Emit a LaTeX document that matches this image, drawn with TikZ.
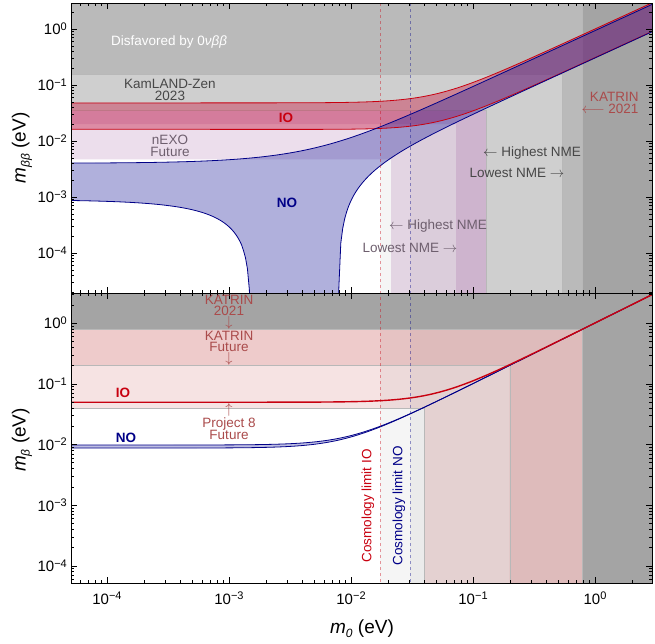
\documentclass[tikz,border=0pt]{standalone}
\usepackage{fontspec}
\setmainfont{Liberation Sans}
\usetikzlibrary{positioning}
\definecolor{ioline}{RGB}{200,0,15}
\definecolor{noline}{RGB}{0,0,135}
\definecolor{iofill}{RGB}{200,20,60}
\definecolor{nofill}{RGB}{40,40,160}
\definecolor{nexo}{RGB}{150,70,150}
\definecolor{pinklim}{RGB}{192,64,64}
\definecolor{klzhi}{RGB}{207,207,207}
\definecolor{klzlo}{RGB}{186,186,186}
\definecolor{katrin}{RGB}{164,164,164}
\definecolor{limtext}{RGB}{170,75,75}
\definecolor{nmetext}{RGB}{110,95,110}
\newcommand{\dec}[1]{10\raisebox{0.55ex}{\fontsize{11}{11}\selectfont #1}}
\newcommand{\mlab}[1]{\textit{m}\raisebox{-0.4ex}{\fontsize{12}{12}\selectfont\textit{#1}}}
\begin{document}
\begin{tikzpicture}[x=1pt,y=-1pt,
  declare function={
    px(\l)=595+122*\l;
    ta(\l)=29-56*\l;
    bo(\l)=323-60.7*\l;
    sm(\a,\b)=max(\a,\b)+0.5*log10(1+pow(10,max(2*(min(\a,\b)-max(\a,\b)),-6)));
    ta1(\L)=0.62*pow(10,\L);
    ta2(\L)=0.285*pow(10,sm(\L,0.934));
    ta3(\L)=0.031*pow(10,sm(\L,1.699));
    noH(\l)=log10(ta1(\l+3)+ta2(\l+3)+ta3(\l+3))-3;
    noL(\l)=log10(max(ta1(\l+3)-ta2(\l+3)-ta3(\l+3),ta2(\l+3)-ta1(\l+3)-ta3(\l+3),0.0001))-3;
    ioH(\l)=log10(0.978*pow(10,sm(\l+3,1.69))+0.022*pow(10,\l+3))-3;
    ioL(\l)=log10(0.33*pow(10,sm(\l+3,1.69))-0.022*pow(10,\l+3))-3;
  },
  lab/.style={font=\fontsize{13.5}{12}\selectfont, align=center, inner sep=0.5pt},
  tag/.style={font=\bfseries\fontsize{13.5}{14}\selectfont, inner sep=1pt},
  ticklab/.style={font=\fontsize{15}{15}\selectfont, inner sep=1pt},
  axlab/.style={font=\fontsize{19}{19}\selectfont},
  edge/.style={draw=black!28, line width=0.4pt}]
\useasboundingbox (0,0) rectangle (655,643);
% cosmology shading, both panels
\fill[black!4] (380,3) rectangle (652,583);
\fill[black!8] (410,3) rectangle (652,583);
% top panel: limits
\begin{scope}
\clip (71,3) rectangle (652,293);
\fill[nexo, opacity=.18] (71,3) -- (71,{ta(-2.33)}) -- (391,{ta(-2.33)}) -- (391,293) -- (652,293) -- (652,3) -- cycle;
\fill[nexo, opacity=.18] (71,3) -- (71,{ta(-1.70)}) -- (456,{ta(-1.70)}) -- (456,293) -- (652,293) -- (652,3) -- cycle;
\filldraw[fill=klzhi, edge] (71,3) -- (71,{ta(-1.444)}) -- (486,{ta(-1.444)}) -- (486,293) -- (652,293) -- (652,3) -- cycle;
\filldraw[fill=klzlo, edge] (71,3) -- (71,{ta(-0.807)}) -- (562,{ta(-0.807)}) -- (562,293) -- (652,293) -- (652,3) -- cycle;
\filldraw[fill=katrin, edge] (582,3) rectangle (652,293);
% bands
\fill[iofill, opacity=.4] plot[domain=-4.3:0.47, samples=120, variable=\l] ({px(\l)},{ta(ioH(\l))})
  -- plot[domain=0.47:-4.3, samples=120, variable=\l] ({px(\l)},{ta(ioL(\l))}) -- cycle;
\fill[nofill, opacity=.37] plot[domain=-4.3:0.47, samples=200, variable=\l] ({px(\l)},{ta(noH(\l))})
  -- plot[domain=0.47:-4.3, samples=300, variable=\l] ({px(\l)},{ta(noL(\l))}) -- cycle;
\draw[ioline, line width=0.8pt] plot[domain=-4.3:0.47, samples=120, variable=\l] ({px(\l)},{ta(ioH(\l))});
\draw[ioline, line width=0.8pt] plot[domain=-4.3:0.47, samples=120, variable=\l] ({px(\l)},{ta(ioL(\l))});
\draw[noline, line width=0.8pt] plot[domain=-4.3:0.47, samples=200, variable=\l] ({px(\l)},{ta(noH(\l))});
\draw[noline, line width=0.8pt] plot[domain=-4.3:0.47, samples=300, variable=\l] ({px(\l)},{ta(noL(\l))});
\end{scope}
% bottom panel: limits
\begin{scope}
\clip (71,293) rectangle (652,583);
\filldraw[fill=pinklim, fill opacity=.15, edge] (71,293) -- (71,{bo(-1.398)}) -- ({px(-1.398)},{bo(-1.398)}) -- ({px(-1.398)},583) -- (652,583) -- (652,293) -- cycle;
\filldraw[fill=pinklim, fill opacity=.15, edge] (71,293) -- (71,{bo(-0.699)}) -- ({px(-0.699)},{bo(-0.699)}) -- ({px(-0.699)},583) -- (652,583) -- (652,293) -- cycle;
\filldraw[fill=katrin, edge] (71,293) -- (71,{bo(-0.097)}) -- (582,{bo(-0.097)}) -- (582,583) -- (652,583) -- (652,293) -- cycle;
\fill[nofill, opacity=.3] plot[domain=-4.3:0.47, samples=100, variable=\l] ({px(\l)},{bo(sm(\l,-2.01))})
  -- plot[domain=0.47:-4.3, samples=100, variable=\l] ({px(\l)},{bo(sm(\l,-2.06))}) -- cycle;
\draw[noline, line width=0.8pt] plot[domain=-4.3:0.47, samples=100, variable=\l] ({px(\l)},{bo(sm(\l,-2.01))});
\draw[noline, line width=0.8pt] plot[domain=-4.3:0.47, samples=100, variable=\l] ({px(\l)},{bo(sm(\l,-2.06))});
\draw[ioline, line width=1.4pt] plot[domain=-4.3:0.47, samples=100, variable=\l] ({px(\l)},{bo(sm(\l,-1.305))});
\end{scope}
% cosmology limits
\draw[ioline, opacity=.4, dashed, line width=0.8pt] (380,3) -- (380,583);
\draw[noline, opacity=.4, dashed, line width=0.8pt] (410,3) -- (410,583);
% ticks
\foreach \d in {-5,...,0}{\foreach \k in {1,...,9}{
  \pgfmathsetmacro\ly{\d+log10(\k)}
  \pgfmathsetmacro\tl{ifthenelse(\k==1,6,3)}
  \begin{scope}
  \clip (71,3) rectangle (652,293);
  \draw[line width=0.4pt] (71,{ta(\ly)}) -- ++(\tl,0);
  \draw[line width=0.4pt] (652,{ta(\ly)}) -- ++(-\tl,0);
  \draw[line width=0.4pt] ({px(\ly)},3) -- ++(0,\tl);
  \draw[line width=0.4pt] ({px(\ly)},293) -- ++(0,-\tl);
  \end{scope}
  \begin{scope}
  \clip (71,293) rectangle (652,583);
  \draw[line width=0.4pt] (71,{bo(\ly)}) -- ++(\tl,0);
  \draw[line width=0.4pt] (652,{bo(\ly)}) -- ++(-\tl,0);
  \draw[line width=0.4pt] ({px(\ly)},293) -- ++(0,\tl);
  \draw[line width=0.4pt] ({px(\ly)},583) -- ++(0,-\tl);
  \end{scope}
}}
\draw[line width=0.6pt] (71,3) rectangle (652,293);
\draw[line width=0.6pt] (71,293) rectangle (652,583);
% tick labels
\foreach \d/\t in {-4/−4,-3/−3,-2/−2,-1/−1,0/0}{
  \node[ticklab, anchor=east] (yt\d) at (68,{ta(\d)}) {\dec{\t}};
  \node[ticklab, anchor=east] (yb\d) at (68,{bo(\d)}) {\dec{\t}};
  \node[ticklab, anchor=north] (xb\d) at ({px(\d)},591) {\dec{\t}};
}
\node[axlab, rotate=90] (ylt) at (22,148) {\mlab{ββ} (eV)};
\node[axlab, rotate=90] (ylb) at (22,440) {\mlab{β} (eV)};
\node[axlab] (xl) at (362,629) {\mlab{0} (eV)};
% top panel texts
\node[lab, text=white] (disf) at (169,42) {Disfavored by 0\textit{νββ}};
\node[lab, text=black!72] (klz) at (170,90) {KamLAND-Zen\\2023};
\node[tag, text=ioline] (iot) at (286,118) {IO};
\node[lab, text=nmetext] (nexot) at (170,146) {nEXO\\Future};
\node[tag, text=noline] (not) at (287,203) {NO};
\node[lab, text=black!72] (khi) at (532,153) {$\leftarrow$ Highest NME};
\node[lab, text=black!72] (klo) at (517,173) {Lowest NME $\rightarrow$};
\node[lab, text=nmetext] (nhi) at (438,226) {$\leftarrow$ Highest NME};
\node[lab, text=nmetext] (nlo) at (410,248) {Lowest NME $\rightarrow$};
\node[lab, text=limtext, align=right] (katt) at (610,103) {KATRIN\\$\longleftarrow$ 2021};
% bottom panel texts
\node[lab, text=limtext, font=\fontsize{13.5}{11}\selectfont] (kat21) at (229,312) {KATRIN\\2021\\$\downarrow$};
\node[lab, text=limtext, font=\fontsize{13.5}{11}\selectfont] (katfu) at (229,348) {KATRIN\\Future\\$\downarrow$};
\node[lab, text=limtext, font=\fontsize{13.5}{12.5}\selectfont] (proj) at (229,422) {$\uparrow$\\Project 8\\Future};
\node[tag, text=ioline] (iob) at (123,393) {IO};
\node[tag, text=noline] (nob) at (126,438) {NO};
\node[lab, text=ioline, rotate=90] (cosio) at (368,506) {Cosmology limit IO};
\node[lab, text=noline, rotate=90] (cosno) at (399,506) {Cosmology limit NO};
\end{tikzpicture}
\end{document}
